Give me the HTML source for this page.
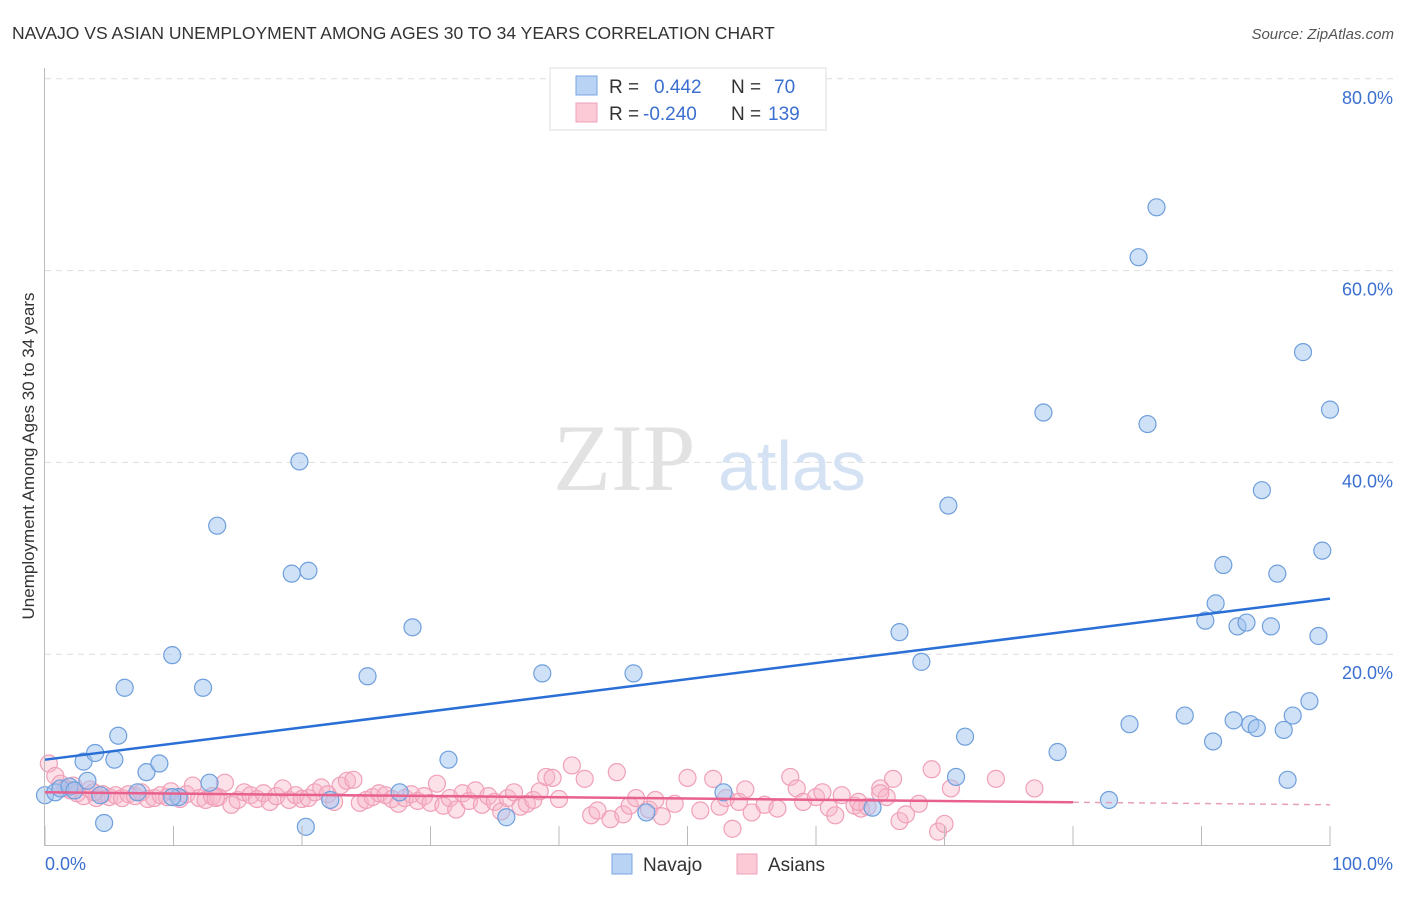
<!DOCTYPE html>
<html><head><meta charset="utf-8"><style>
body{margin:0;background:#fff;font-family:"Liberation Sans",sans-serif}
svg text{font-family:"Liberation Sans",sans-serif}
</style></head><body>
<svg id="chart" width="1406" height="892" xmlns="http://www.w3.org/2000/svg">
<text x="12" y="39" font-size="17.5" fill="#333">NAVAJO VS ASIAN UNEMPLOYMENT AMONG AGES 30 TO 34 YEARS CORRELATION CHART</text>
<text x="1394" y="39" font-size="15" fill="#555" font-style="italic" text-anchor="end">Source: ZipAtlas.com</text>
<g id="grid"></g>
<text x="553" y="490" font-size="95" fill="#e2e2e2" font-family="Liberation Serif" style="font-family:'Liberation Serif',serif">ZIP</text>
<text x="718" y="490" font-size="70" fill="#d4e2f4">atlas</text>
<g id="asians"></g>
<g id="navajo"></g>
<g id="trends"></g>
<g id="axes"></g>
<g>
<rect x="550" y="68" width="276" height="62" fill="#fff" stroke="#ddd"/>
<rect x="576" y="76" width="21" height="19" fill="#b9d3f5" stroke="#7aa6e0"/>
<rect x="576" y="103" width="21" height="19" fill="#fcc9d7" stroke="#f0a0b8"/>
<text x="609" y="93" font-size="19" fill="#333">R =</text>
<text x="654" y="93" font-size="19" fill="#3b6fd0">0.442</text>
<text x="731" y="93" font-size="19" fill="#333">N =</text>
<text x="774" y="93" font-size="19" fill="#3b6fd0">70</text>
<text x="609" y="120" font-size="19" fill="#333">R =</text>
<text x="643" y="120" font-size="19" fill="#3b6fd0">-0.240</text>
<text x="731" y="120" font-size="19" fill="#333">N =</text>
<text x="768" y="120" font-size="19" fill="#3b6fd0">139</text>
</g>
<g>
<rect x="612" y="854" width="20" height="20" fill="#b9d3f5" stroke="#7aa6e0"/>
<text x="643" y="871" font-size="19" fill="#333">Navajo</text>
<rect x="737" y="854" width="20" height="20" fill="#fcc9d7" stroke="#f0a0b8"/>
<text x="768" y="871" font-size="19" fill="#333">Asians</text>
</g>
<text transform="translate(34,456) rotate(-90)" font-size="17" fill="#333" text-anchor="middle">Unemployment Among Ages 30 to 34 years</text>
</svg>
<script>
const yTicks=[20,40,60,80];
const yTickLabels=["20.0%","40.0%","60.0%","80.0%"];
const xTicks=[0,10,20,30,40,50,60,70,80,90,100];
const navX=[0,0.8,1.2,1.9,2.3,3.0,3.3,3.9,4.3,4.6,5.4,5.7,6.2,7.2,7.9,8.9,9.9,10.4,12.3,12.8,13.4,19.2,19.8,20.5,22.2,25.1,27.6,28.6,31.4,35.9,38.7,45.8,46.8,52.8,64.4,66.5,68.2,70.3,70.9,71.6,77.7,78.8,82.8,84.4,85.1,85.8,86.5,88.7,90.3,90.9,91.1,91.7,92.5,92.8,93.5,93.8,94.3,94.7,95.4,95.9,96.4,96.7,97.1,97.9,98.4,99.1,99.4,100,9.9,20.3];
const navY=[5.3,5.6,6.0,6.2,5.8,8.8,6.8,9.7,5.3,2.4,9.0,11.5,16.5,5.6,7.7,8.6,19.9,5.1,16.5,6.6,33.4,28.4,40.1,28.7,4.8,17.7,5.6,22.8,9.0,3.0,18.0,18.0,3.5,5.6,4.0,22.3,19.2,35.5,7.2,11.4,45.2,9.8,4.8,12.7,61.4,44.0,66.6,13.6,23.5,10.9,25.3,29.3,13.1,22.9,23.3,12.7,12.3,37.1,22.9,28.4,12.1,6.9,13.6,51.5,15.1,21.9,30.8,45.5,5.1,2.0];
const asX=[0.3,0.8,1.2,1.6,2.0,2.5,3.0,3.5,4.0,4.5,5.0,5.5,6.0,6.5,7.0,7.5,8.0,8.5,9.0,9.5,10.5,11.0,11.5,12.0,12.5,13.0,13.5,14.0,14.5,15.0,15.5,16.0,16.5,17.0,17.5,18.0,18.5,19.0,19.5,20.0,20.5,21.0,21.5,22.0,22.5,23.0,23.5,24.0,24.5,25.0,25.5,26.0,26.5,27.0,27.5,28.0,28.5,29.0,29.5,30.0,30.5,31.0,31.5,32.0,32.5,33.0,33.5,34.0,34.5,35.0,35.5,36.0,36.5,37.0,37.5,38.0,38.5,39.0,39.5,40.0,41.0,42.0,42.5,43.0,44.0,44.5,45.0,45.5,46.0,47.0,47.5,48.0,49.0,50.0,51.0,52.0,52.5,53.0,53.5,54.0,54.5,55.0,56.0,57.0,58.0,58.5,59.0,60.0,60.5,61.0,61.5,62.0,63.0,63.5,64.0,65.0,65.5,66.0,66.5,67.0,68.0,69.0,69.5,70.0,70.5,74.0,77.0,65.0,63.3,3.8,2.2,9.8,13.3];
const asY=[8.6,7.3,6.5,6.0,5.8,5.5,5.2,5.9,5.0,5.4,5.1,5.3,5.0,5.4,5.2,5.6,4.9,5.0,5.3,5.1,4.9,5.4,6.3,5.0,4.8,5.2,5.1,6.6,4.3,4.8,5.6,5.3,4.9,5.5,4.6,5.2,6.0,4.8,5.3,4.9,5.0,5.6,6.1,5.4,4.6,6.3,6.8,6.9,4.5,4.8,5.1,5.5,5.3,4.9,4.4,5.0,5.4,4.7,5.2,4.5,6.5,4.2,5.0,3.8,5.5,4.7,5.8,4.3,5.2,4.6,3.6,5.0,5.6,4.1,4.4,4.8,5.7,7.2,7.1,4.9,8.4,7.0,3.2,3.7,2.8,7.7,3.3,4.2,5.0,3.8,4.8,3.1,4.4,7.1,3.7,7.0,4.1,5.0,1.8,4.6,5.9,3.5,4.3,3.9,7.2,6.0,4.6,5.1,5.6,4.0,3.2,5.3,4.2,3.9,4.1,6.0,5.1,7.0,2.6,3.3,4.4,8.0,1.5,2.3,6.0,7.0,6.0,5.5,4.6,5.6,6.3,5.7,5.0];
const navTrend=[9.0,25.8];   // y at x=0 and x=100
const asTrend=[5.6,4.3];     // y at x=0 and x=100
const asTrendSolidEnd=80;

const X=v=>45+v*12.85, Y=v=>846-v*9.59;
const NS="http://www.w3.org/2000/svg";
function mk(p,t,a){const e=document.createElementNS(NS,t);for(const k in a)e.setAttribute(k,a[k]);p.appendChild(e);return e;}
const grid=document.getElementById('grid');
yTicks.forEach((t,i)=>{
 const l=mk(grid,'line',{x1:45,x2:1395,y1:Y(t),y2:Y(t),stroke:'#ddd','stroke-dasharray':'6,5'});
 
 
 const tx=mk(grid,'text',{x:1393,y:Y(t)+25,'font-size':18,fill:'#3b6fd0','text-anchor':'end'});
 tx.textContent=yTickLabels[i];
 
 
});
const axes=document.getElementById('axes');
mk(axes,'line',{x1:44.5,x2:44.5,y1:68,y2:846,stroke:'#bbb'});
mk(axes,'line',{x1:44,x2:1330,y1:845.5,y2:845.5,stroke:'#bbb'});
xTicks.forEach(t=>{const l=mk(axes,'line',{x1:X(t),x2:X(t),y1:826,y2:846,stroke:'#bbb'});
 
 });
let t0=mk(axes,'text',{x:45,y:870,'font-size':18,fill:'#3b6fd0'});t0.textContent='0.0%';


let t1=mk(axes,'text',{x:1393,y:870,'font-size':18,fill:'#3b6fd0','text-anchor':'end'});t1.textContent='100.0%';


const ag=document.getElementById('asians');
asX.forEach((x,i)=>{const c=mk(ag,'circle',{cx:X(x),cy:Y(asY[i]),r:8.5,fill:'rgba(248,180,200,0.4)',stroke:'#f0a0b8','stroke-width':1.2});
 
 });
const ng=document.getElementById('navajo');
navX.forEach((x,i)=>{const c=mk(ng,'circle',{cx:X(x),cy:Y(navY[i]),r:8.5,fill:'rgba(160,196,240,0.5)',stroke:'#6f9fdc','stroke-width':1.2});
 
 });
const tg=document.getElementById('trends');
const bl=mk(tg,'line',{x1:X(0),y1:Y(navTrend[0]),x2:X(100),y2:Y(navTrend[1]),stroke:'#2a6fd6','stroke-width':2.5});


const ay=x=>asTrend[0]+(asTrend[1]-asTrend[0])*x/100;
const pl=mk(tg,'line',{x1:X(0),y1:Y(ay(0)),x2:X(asTrendSolidEnd),y2:Y(ay(asTrendSolidEnd)),stroke:'#e8608e','stroke-width':2.5});


const pd=mk(tg,'line',{x1:X(asTrendSolidEnd),y1:Y(ay(asTrendSolidEnd)),x2:X(100),y2:Y(ay(100)),stroke:'#e8a0b8','stroke-width':1.5,'stroke-dasharray':'6,5'});


</script>
</body></html>
